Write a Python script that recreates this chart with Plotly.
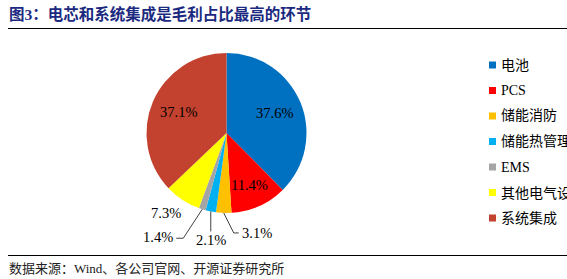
import math
import plotly.graph_objects as go

W, H = 567, 279

labels = ["电池", "PCS", "储能消防", "储能热管理", "EMS", "其他电气设备", "系统集成"]
values = [37.6, 11.4, 3.1, 2.1, 1.4, 7.3, 37.1]
colors = ["#0070C0", "#FF0000", "#FFC000", "#00B0F0", "#A5A5A5", "#FFFF00", "#C3422F"]
title_text = "图3：电芯和系统集成是毛利占比最高的环节"
source_text = "数据来源：Wind、各公司官网、开源证券研究所"

# pie geometry (pixels)
CX, CY, R = 226.5, 133, 80

def px(x):
    return x / W

def py(y):
    return 1 - y / H

fig = go.Figure()
fig.add_trace(go.Pie(
    labels=labels, values=values, sort=False, direction="clockwise", rotation=0,
    marker=dict(colors=colors, line=dict(width=0)),
    textinfo="none", hoverinfo="label+percent",
    domain=dict(x=[px(CX - R), px(CX + R)], y=[py(CY + R), py(CY - R)]),
))

total = sum(values)
cum = 0
mids = []
for v in values:
    mids.append((cum + v / 2) / total)
    cum += v

def pt(f, r):
    th = f * 2 * math.pi
    return CX + r * math.sin(th), CY - r * math.cos(th)

numfont = dict(family="Liberation Serif, Times New Roman, serif", size=14.5, color="#000000")
annotations = []
shapes = []

def line(a, b):
    shapes.append(dict(type="line", xref="paper", yref="paper", x0=px(a[0]), y0=py(a[1]),
                       x1=px(b[0]), y1=py(b[1]), line=dict(color="#404040", width=1)))

def label(x, y, txt, anchor="center"):
    annotations.append(dict(x=px(x), y=py(y), xref="paper", yref="paper", text=txt,
                            showarrow=False, font=numfont, xanchor=anchor, yanchor="middle"))

# inside labels
inside = {0: 0.65, 1: 0.71, 6: 0.65}
for i, rf in inside.items():
    x, y = pt(mids[i], R * rf)
    label(x, y, f"{values[i]:.1f}%")

# outside labels with leader lines
ex, ey = pt(mids[2], R)
line((ex, ey), (ex + 10, ey + 20))
line((ex + 10, ey + 20), (ex + 15, ey + 20))
label(ex + 16, ey + 20, f"{values[2]:.1f}%", "left")

ex, ey = pt(mids[3], R)
line((ex, ey), (ex, ey + 20))
label(ex, ey + 29, f"{values[3]:.1f}%")

ex, ey = pt(mids[4], R)
line((ex, ey), (ex - 19, ey + 29))
line((ex - 19, ey + 29), (ex - 26, ey + 29))
label(ex - 27, ey + 28, f"{values[4]:.1f}%", "right")

ex, ey = pt(mids[5], R)
label(ex - 17, ey + 13, f"{values[5]:.1f}%")

# manual legend
LX, LY0, LDY, MS = 489, 65, 25.5, 7
for i, (lab, col) in enumerate(zip(labels, colors)):
    yc = LY0 + i * LDY
    shapes.append(dict(type="rect", xref="paper", yref="paper", x0=px(LX), x1=px(LX + MS),
                       y0=py(yc + MS / 2), y1=py(yc - MS / 2), fillcolor=col, line=dict(width=0)))
    annotations.append(dict(x=px(LX + MS + 3), y=py(yc), xref="paper", yref="paper", text=lab,
                            showarrow=False, xanchor="left", yanchor="middle",
                            font=dict(family="Liberation Serif, Noto Sans CJK SC", size=14, color="#000000")))

# title & source
annotations.append(dict(x=px(7), y=py(14), xref="paper", yref="paper", text=f"<b>{title_text}</b>",
                        showarrow=False, xanchor="left", yanchor="middle",
                        font=dict(family="Liberation Serif, Noto Sans CJK SC", size=15.5, color="#1B2A80")))
annotations.append(dict(x=px(7), y=py(268), xref="paper", yref="paper", text=source_text,
                        showarrow=False, xanchor="left", yanchor="middle",
                        font=dict(family="Liberation Serif, Noto Sans CJK SC", size=13, color="#222222")))
shapes.append(dict(type="line", xref="paper", yref="paper", x0=px(8), x1=1, y0=py(28.5), y1=py(28.5),
                   line=dict(color="#000000", width=1)))
shapes.append(dict(type="line", xref="paper", yref="paper", x0=px(8), x1=1, y0=py(255.5), y1=py(255.5),
                   line=dict(color="#000000", width=1)))

fig.update_layout(
    width=W, height=H, margin=dict(l=0, r=0, t=0, b=0),
    paper_bgcolor="white", plot_bgcolor="white",
    showlegend=False,
    annotations=annotations, shapes=shapes,
)
fig.write_html("out.html")
